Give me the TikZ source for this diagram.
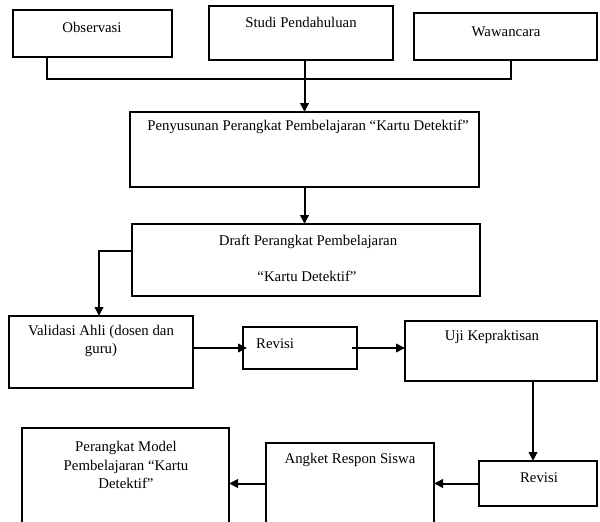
\documentclass[tikz,border=0pt]{standalone}
\usepackage{fontspec}
\setmainfont{Liberation Serif}
\usetikzlibrary{arrows.meta,calc}
\begin{document}
\begin{tikzpicture}[x=1pt,y=-1pt,
  box/.style={draw=black,line width=2.1pt,fill=none,inner sep=0pt,outer sep=0pt,anchor=north west},
  txt/.style={inner sep=0pt,font=\fontsize{14.8}{18.3}\selectfont,align=center,text=black},
  conn/.style={line width=2pt,draw=black},
  arr/.style={conn,-{Triangle[length=9pt,width=8.5pt]}}]
\fill[white] (0,0) rectangle (600,522);
\useasboundingbox (0,0) rectangle (600,522);
\clip (0,0) rectangle (600,522);
% boxes
\node[box,minimum width=159pt,minimum height=47pt] (obs) at (13,10) {};
\node[box,minimum width=184pt,minimum height=54pt] (studi) at (209,6) {};
\node[box,minimum width=183pt,minimum height=47pt] (waw) at (414,13) {};
\node[box,minimum width=349pt,minimum height=75pt] (pen) at (130,112) {};
\node[box,minimum width=348pt,minimum height=72pt] (draft) at (132,224) {};
\node[box,minimum width=184pt,minimum height=72pt] (val) at (9,316) {};
\node[box,minimum width=114pt,minimum height=42pt] (rev1) at (243,327) {};
\node[box,minimum width=192pt,minimum height=60pt] (uji) at (405,321) {};
\node[box,minimum width=118pt,minimum height=45pt] (rev2) at (479,461) {};
\node[box,minimum width=168pt,minimum height=120pt] (ang) at (266,443) {};
\node[box,minimum width=207pt,minimum height=130pt] (per) at (22,428) {};
% texts
\node[txt] (tobs) at (92,27) {Observasi};
\node[txt] (tstudi) at (301,22) {Studi Pendahuluan};
\node[txt] (twaw) at (506,32) {Wawancara};
\node[txt] (tpen) at (308,127) {Penyusunan Perangkat Pembelajaran “Kartu Detektif”};
\node[txt] (tdraft1) at (308,242) {Draft Perangkat Pembelajaran};
\node[txt] (tdraft2) at (307,276) {“Kartu Detektif”};
\node[txt] (tval) at (101,341) {Validasi Ahli (dosen dan\\guru)};
\node[txt,anchor=west] (trev1) at (256,344) {Revisi};
\node[txt] (tuji) at (492,337) {Uji Kepraktisan};
\node[txt] (trev2) at (539,478) {Revisi};
\node[txt] (tang) at (350,460) {Angket Respon Siswa};
\node[txt] (tper) at (126,465) {Perangkat Model\\Pembelajaran “Kartu\\Detektif”};
% connectors
\coordinate (jl) at (47,79);
\coordinate (jr) at (511,79);
\draw[conn] (obs.south -| jl) -- (jl) -- (jr) -- (waw.south -| jr);
\draw[arr] (studi.south -| pen.north) -- (pen.north);
\draw[arr] (pen.south) -- (pen.south |- draft.north);
\coordinate (dl) at (99,251);
\draw[arr] (draft.west |- dl) -- (dl) -- (val.north -| dl);
\draw[arr] (val.east |- rev1.west) -- ([xshift=4pt]rev1.west);
\draw[arr] ([xshift=-5pt]rev1.east) -- (rev1.east -| uji.west);
\coordinate (ud) at (533,381);
\draw[arr] (ud) -- (rev2.north -| ud);
\draw[arr] (rev2.west) -- (rev2.west -| ang.east);
\draw[arr] (ang.west |- rev2.west) -- (per.east |- rev2.west);
\end{tikzpicture}
\end{document}
